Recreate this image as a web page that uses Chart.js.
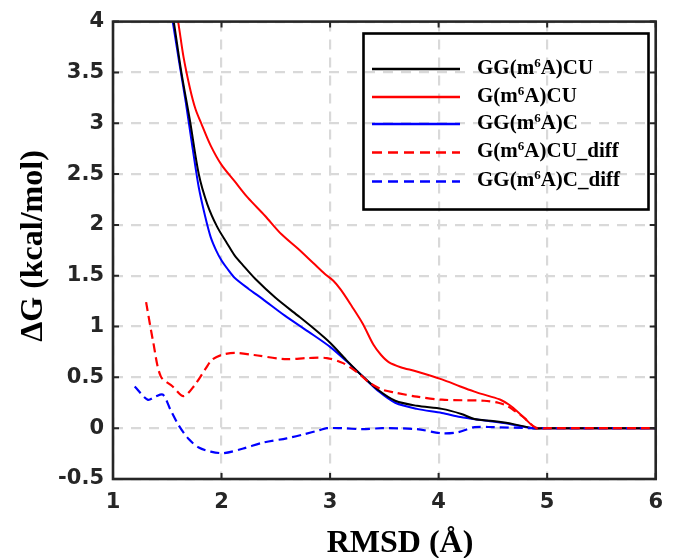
<!DOCTYPE html>
<html><head><meta charset="utf-8">
<script src="https://cdn.jsdelivr.net/npm/chart.js@4/dist/chart.umd.min.js"></script>
<style>html,body{margin:0;padding:0;background:#fff;}#wrap{width:674px;height:558px;}</style>
</head><body><div id="wrap"><canvas id="c" width="674" height="558"></canvas></div>
<script>
// ---- data ----
const seriesLabels = ['GG(m⁶A)CU', 'G(m⁶A)CU', 'GG(m⁶A)C', 'G(m⁶A)CU_diff', 'GG(m⁶A)C_diff'];

const ggcuX = [1.50, 1.56, 1.63, 1.71, 1.79, 1.87, 1.96, 2.05, 2.12, 2.20, 2.31, 2.50, 2.70, 2.85, 3.00, 3.15, 3.30, 3.45, 3.60, 3.80, 4.03, 4.21, 4.33, 4.50, 4.69, 4.87, 5.00, 5.50, 6.00];
const ggcuY = [4.40, 4.00, 3.50, 3.02, 2.50, 2.20, 1.98, 1.82, 1.70, 1.60, 1.47, 1.28, 1.11, 0.98, 0.84, 0.67, 0.51, 0.37, 0.27, 0.22, 0.19, 0.14, 0.09, 0.07, 0.04, 0.00, 0.00, 0.00, 0.00];

const gcuX = [1.52, 1.60, 1.65, 1.71, 1.76, 1.82, 1.90, 2.00, 2.12, 2.24, 2.40, 2.55, 2.70, 2.85, 2.95, 3.03, 3.10, 3.20, 3.30, 3.40, 3.47, 3.54, 3.65, 3.79, 4.03, 4.20, 4.33, 4.45, 4.57, 4.65, 4.72, 4.80, 4.87, 4.92, 5.00, 6.00];
const gcuY = [4.48, 4.00, 3.65, 3.34, 3.14, 2.98, 2.78, 2.59, 2.43, 2.27, 2.09, 1.91, 1.77, 1.62, 1.52, 1.45, 1.36, 1.20, 1.03, 0.82, 0.72, 0.65, 0.60, 0.56, 0.48, 0.41, 0.36, 0.32, 0.28, 0.23, 0.17, 0.09, 0.02, 0.00, 0.00, 0.00];

const ggcX = [1.50, 1.55, 1.61, 1.67, 1.73, 1.79, 1.85, 1.90, 1.95, 2.00, 2.06, 2.12, 2.25, 2.38, 2.58, 2.80, 3.00, 3.15, 3.30, 3.45, 3.60, 3.80, 4.03, 4.20, 4.39, 4.60, 4.87, 5.00, 6.00];
const ggcY = [4.33, 4.00, 3.60, 3.21, 2.78, 2.37, 2.08, 1.88, 1.75, 1.65, 1.56, 1.48, 1.37, 1.27, 1.11, 0.95, 0.80, 0.66, 0.51, 0.36, 0.25, 0.19, 0.15, 0.11, 0.08, 0.05, 0.00, 0.00, 0.00];

const gcuDiffX = [1.305, 1.37, 1.44, 1.55, 1.65, 1.75, 1.85, 1.91, 2.00, 2.12, 2.30, 2.58, 2.80, 2.97, 3.12, 3.25, 3.36, 3.48, 3.60, 3.80, 4.03, 4.42, 4.55, 4.63, 4.70, 4.78, 4.90, 5.00, 6.00];
const gcuDiffY = [1.24, 0.85, 0.51, 0.41, 0.315, 0.42, 0.58, 0.67, 0.72, 0.74, 0.72, 0.68, 0.69, 0.69, 0.64, 0.55, 0.45, 0.38, 0.35, 0.31, 0.28, 0.27, 0.25, 0.22, 0.17, 0.11, 0.00, 0.00, 0.00];

const ggcDiffX = [1.20, 1.32, 1.39, 1.46, 1.53, 1.61, 1.70, 1.79, 1.90, 2.02, 2.20, 2.39, 2.60, 2.76, 2.90, 2.97, 3.10, 3.30, 3.48, 3.80, 4.03, 4.18, 4.33, 4.50, 4.87, 5.00, 6.00];
const ggcDiffY = [0.41, 0.28, 0.31, 0.33, 0.18, 0.02, -0.11, -0.19, -0.23, -0.245, -0.20, -0.14, -0.10, -0.06, -0.02, 0.00, 0.00, -0.01, 0.00, -0.01, -0.05, -0.04, 0.01, 0.01, 0.00, 0.00, 0.00];

const xTickValues = [1, 2, 3, 4, 5, 6];
const yTickValues = [-0.5, 0, 0.5, 1, 1.5, 2, 2.5, 3, 3.5, 4];
const xAxisTitle = 'RMSD (Å)';
const yAxisTitle = 'ΔG (kcal/mol)';

// ---- build ----
const pts = (xs, ys) => xs.map((x, i) => ({x: x, y: ys[i]}));
const SOLID = [], DASH = [9, 5];
function ds(label, xs, ys, color, dash, order) {
  return {label, data: pts(xs, ys), borderColor: color, backgroundColor: color,
    borderWidth: dash.length ? 2.2 : 2, borderDash: dash, pointRadius: 0, fill: false,
    tension: 0.3, order: order};
}
const datasets = [
  ds(seriesLabels[0], ggcuX, ggcuY, '#000000', SOLID, 2),
  ds(seriesLabels[1], gcuX, gcuY, '#ff0000', SOLID, 2),
  ds(seriesLabels[2], ggcX, ggcY, '#0000ff', SOLID, 2),
  ds(seriesLabels[3], gcuDiffX, gcuDiffY, '#ff0000', DASH, 0),
  ds(seriesLabels[4], ggcDiffX, ggcDiffY, '#0000ff', DASH, 1)
];

const AXIS = '#262626';
const tickFont = {family: '"DejaVu Sans"', size: 21, weight: 'bold', lineHeight: 1.2};

function drawRich(ctx, text, x, y, size) {
  const parts = text.split('⁶');
  let cx = x;
  parts.forEach((p, i) => {
    ctx.font = 'bold ' + size + 'px "Liberation Serif"';
    ctx.fillText(p, cx, y);
    cx += ctx.measureText(p).width;
    if (i < parts.length - 1) {
      ctx.font = 'bold ' + Math.round(size * 0.6) + 'px "Liberation Serif"';
      ctx.fillText('6', cx, y - size * 0.33);
      cx += ctx.measureText('6').width;
    }
  });
}

const framePlugin = {
  id: 'frame',
  afterDraw(chart) {
    const ctx = chart.ctx, a = chart.chartArea;
    const xs = chart.scales.x, ys = chart.scales.y;
    ctx.save();
    // inward ticks
    ctx.strokeStyle = AXIS; ctx.lineWidth = 2; ctx.setLineDash([]);
    const TL = 6;
    ctx.beginPath();
    xTickValues.forEach(v => {
      const px = xs.getPixelForValue(v);
      ctx.moveTo(px, a.bottom); ctx.lineTo(px, a.bottom - TL);
      ctx.moveTo(px, a.top); ctx.lineTo(px, a.top + TL);
    });
    yTickValues.forEach(v => {
      const py = ys.getPixelForValue(v);
      ctx.moveTo(a.left, py); ctx.lineTo(a.left + TL, py);
      ctx.moveTo(a.right, py); ctx.lineTo(a.right - TL, py);
    });
    ctx.stroke();
    // frame
    ctx.lineWidth = 2.6;
    ctx.strokeRect(a.left, a.top, a.right - a.left, a.bottom - a.top);

    // legend
    const L = {left: 363.5, top: 33.5, right: 648.5, bottom: 209.5};
    ctx.strokeStyle = '#000'; ctx.lineWidth = 2.6;
    ctx.strokeRect(L.left, L.top, L.right - L.left, L.bottom - L.top);
    const rows = [69, 97, 124, 152.5, 181.5];
    chart.data.datasets.forEach((d, i) => {
      const y = rows[i];
      ctx.beginPath();
      ctx.strokeStyle = d.borderColor; ctx.lineWidth = 2.6;
      ctx.setLineDash(d.borderDash.length ? [10, 6] : []);
      ctx.moveTo(372, y); ctx.lineTo(460, y); ctx.stroke();
      ctx.setLineDash([]);
      ctx.fillStyle = '#000'; ctx.textAlign = 'left'; ctx.textBaseline = 'alphabetic';
      drawRich(ctx, d.label, 477, y + 4.5, 21);
    });

    // axis titles
    ctx.fillStyle = '#000';
    ctx.font = 'bold 32px "Liberation Serif"';
    ctx.textAlign = 'center'; ctx.textBaseline = 'alphabetic';
    ctx.fillText(xAxisTitle, 400, 551.5);
    ctx.translate(41.5, 246);
    ctx.rotate(-Math.PI / 2);
    ctx.fillText(yAxisTitle, 0, 0);
    ctx.restore();
  }
};

new Chart(document.getElementById('c'), {
  type: 'line',
  data: {datasets},
  options: {
    responsive: false, animation: false, devicePixelRatio: 1,
    layout: {padding: {top: 21, right: 11, left: 0, bottom: 0}},
    plugins: {legend: {display: false}, tooltip: {enabled: false}, title: {display: false}},
    scales: {
      x: {
        type: 'linear', min: 1, max: 6,
        afterBuildTicks: s => { s.ticks = xTickValues.map(v => ({value: v})); },
        afterFit: s => { s.height = 79; },
        ticks: {autoSkip: false, maxRotation: 0, padding: 11, color: AXIS, font: tickFont, callback: v => String(v)},
        grid: {color: '#d9d9d9', lineWidth: 2.2, drawTicks: false},
        border: {display: false, dash: [10, 8]}
      },
      y: {
        type: 'linear', min: -0.5, max: 4,
        afterBuildTicks: s => { s.ticks = yTickValues.map(v => ({value: v})); },
        afterFit: s => { s.width = 113; },
        ticks: {autoSkip: false, padding: 9, color: AXIS, font: tickFont, callback: v => String(v)},
        grid: {color: '#d9d9d9', lineWidth: 2.2, drawTicks: false},
        border: {display: false, dash: [10, 8]}
      }
    }
  },
  plugins: [framePlugin]
});
</script>
</body></html>
